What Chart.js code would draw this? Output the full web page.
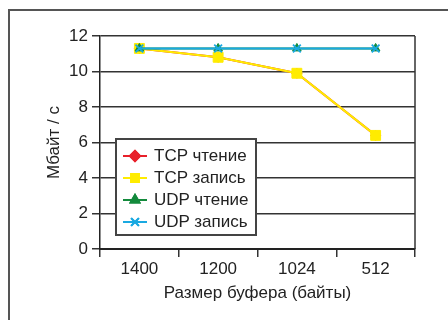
<!DOCTYPE html>
<html><head><meta charset="utf-8">
<script src="https://cdn.jsdelivr.net/npm/chart.js@4/dist/chart.umd.min.js"></script>
<style>
html,body{margin:0;padding:0;background:#fff;width:448px;height:320px;overflow:hidden;font-family:"Liberation Sans",Arial,sans-serif;}
#frame{position:absolute;left:8px;top:9px;width:460px;height:330px;border-left:2px solid #555;border-top:2px solid #555;}
#wrap{position:absolute;left:0;top:0;width:448px;height:320px;}
#legend{position:absolute;left:115px;top:138px;width:138px;height:94px;border:2px solid #444;background:#fff;box-sizing:content-box;}
.item{position:absolute;left:6px;height:22px;display:flex;align-items:center;font-size:17px;color:#222;white-space:nowrap;}
.item canvas{margin-right:7px;}
</style></head>
<body>
<div id="frame"></div>
<div id="wrap"><canvas id="c" width="448" height="320"></canvas></div>
<div id="legend"></div>
<script>
const categories = ["1400", "1200", "1024", "512"];
const tcpRead  = [11.3, 10.8, 9.9, 6.4];
const tcpWrite = [11.3, 10.8, 9.9, 6.4];
const udpRead  = [11.3, 11.3, 11.3, 11.3];
const udpWrite = [11.3, 11.3, 11.3, 11.3];
const seriesNames = ["TCP чтение", "TCP запись", "UDP чтение", "UDP запись"];
const yTicks = [0, 2, 4, 6, 8, 10, 12];
const xTitle = "Размер буфера (байты)";
const yTitle = "Мбайт / с";

const FONT = "'Liberation Sans', Arial, sans-serif";
const styles = [
  {color:'#e8202a', pointStyle:'rectRot', radius:5, order:3, bw:1},
  {color:'#ffec00', pointStyle:'rect', radius:7, order:2, bw:1},
  {color:'#138a3c', pointStyle:'triangle', radius:5, order:1, bw:1},
  {color:'#1aa9e1', pointStyle:'crossRot', radius:5.5, order:0, bw:1.8}
];
const values = [tcpRead, tcpWrite, udpRead, udpWrite];

const datasets = values.map((v,i)=>({
  label: seriesNames[i],
  data: v,
  borderColor: styles[i].color,
  backgroundColor: styles[i].color,
  pointBackgroundColor: styles[i].color,
  pointBorderColor: styles[i].color,
  pointStyle: styles[i].pointStyle,
  pointRadius: styles[i].radius,
  pointBorderWidth: styles[i].bw,
  borderWidth: 2,
  order: styles[i].order,
  tension: 0,
  fill: false
}));

const rightBorder = {
  id:'rightBorder',
  afterDraw(chart){
    const {ctx, chartArea:a} = chart;
    ctx.save();
    ctx.strokeStyle = '#333';
    ctx.lineWidth = 1.5;
    ctx.beginPath();
    ctx.moveTo(a.right, a.top);
    ctx.lineTo(a.right, a.bottom);
    ctx.stroke();
    ctx.restore();
  }
};

const chart = new Chart(document.getElementById('c'), {
  type:'line',
  data:{labels:categories, datasets},
  plugins:[rightBorder],
  options:{
    responsive:false,
    animation:false,
    devicePixelRatio:1,
    layout:{padding:{top:36, right:33, left:0, bottom:0}},
    plugins:{legend:{display:false}, tooltip:{enabled:false}},
    scales:{
      x:{
        type:'category',
        offset:true,
        grid:{offset:true, drawOnChartArea:false, drawTicks:true, tickLength:8, color:'#333', lineWidth:1.5},
        border:{display:true, color:'#222', width:2},
        ticks:{font:{family:FONT, size:17}, color:'#222', padding:2, maxRotation:0},
        title:{display:true, text:xTitle, font:{family:FONT, size:17}, color:'#222', padding:{top:16,bottom:16}},
        afterFit(s){ s.height = 71; }
      },
      y:{
        min:0, max:12,
        afterBuildTicks(s){ s.ticks = yTicks.map(v=>({value:v})); },
        grid:{color:'#333', lineWidth:1.5, tickLength:8, drawTicks:true},
        border:{display:true, color:'#222', width:1.5},
        ticks:{font:{family:FONT, size:17}, color:'#222', padding:4},
        title:{display:true, text:yTitle, font:{family:FONT, size:17}, color:'#222', padding:{top:44,bottom:44}},
        afterFit(s){ s.width = 100; }
      }
    }
  }
});

// HTML legend built from datasets
const leg = document.getElementById('legend');
const rowsY = [5, 27, 49, 71];
chart.data.datasets.forEach((ds,i)=>{
  const d = document.createElement('div');
  d.className='item';
  d.style.top = rowsY[i]+'px';
  const cv = document.createElement('canvas');
  cv.width=24; cv.height=16;
  const g = cv.getContext('2d');
  g.strokeStyle = ds.borderColor; g.lineWidth=2;
  g.beginPath(); g.moveTo(0,8); g.lineTo(24,8); g.stroke();
  Chart.helpers.drawPoint(g, {pointStyle:ds.pointStyle, radius:Math.min(ds.pointRadius,5.5), borderWidth:ds.pointBorderWidth}, 12, 8);
  g.fillStyle = ds.pointBackgroundColor;
  g.fill();
  g.stroke();
  d.appendChild(cv);
  const t = document.createElement('span');
  t.textContent = ds.label;
  d.appendChild(t);
  leg.appendChild(d);
});
</script>
</body></html>
